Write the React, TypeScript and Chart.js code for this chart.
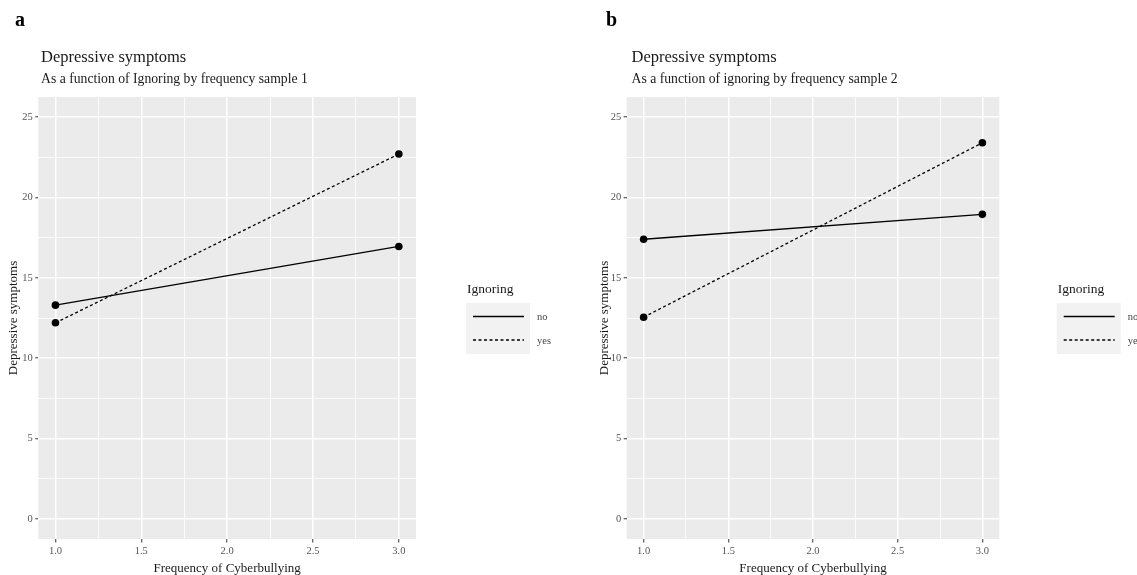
import React, { useEffect, useRef } from 'react';
import { Chart, registerables } from 'chart.js';

Chart.register(...registerables);

// ---- data ----
const frequencyLevels = [1, 3];
const seriesLabels = ['no', 'yes'];
const sampleOneNo = [13.3, 16.95];
const sampleOneYes = [12.2, 22.7];
const sampleTwoNo = [17.4, 18.95];
const sampleTwoYes = [12.55, 23.4];

const xMajorTicks = [1.0, 1.5, 2.0, 2.5, 3.0];
const xMinorTicks = [1.25, 1.75, 2.25, 2.75];
const xTickLabels = ['1.0', '1.5', '2.0', '2.5', '3.0'];
const yMajorTicks = [0, 5, 10, 15, 20, 25];
const yMinorTicks = [2.5, 7.5, 12.5, 17.5, 22.5];
const yTickLabels = ['0', '5', '10', '15', '20', '25'];
const xRange = [0.9, 3.1];
const yRange = [-1.25, 26.25];

const SERIF = "'Liberation Serif', 'DejaVu Serif', serif";
const H = 575;

type Panel = {
  letter: string;
  title: string;
  subtitle: string;
  no: number[];
  yes: number[];
  left: number;
  width: number;
  areaLeft: number;
  areaRight: number;
  yTitleX: number;
  titleX: number;
  letterX: number;
  legendX: number;
};

const panels: Panel[] = [
  {
    letter: 'a',
    title: 'Depressive symptoms',
    subtitle: 'As a function of Ignoring by frequency sample 1',
    no: sampleOneNo,
    yes: sampleOneYes,
    left: 0,
    width: 568,
    areaLeft: 38.3,
    areaRight: 416,
    yTitleX: 14,
    titleX: 41,
    letterX: 15,
    legendX: 466,
  },
  {
    letter: 'b',
    title: 'Depressive symptoms',
    subtitle: 'As a function of ignoring by frequency sample 2',
    no: sampleTwoNo,
    yes: sampleTwoYes,
    left: 568,
    width: 569,
    areaLeft: 58.7,
    areaRight: 431.3,
    yTitleX: 36.5,
    titleX: 63.5,
    letterX: 38,
    legendX: 488.7,
  },
];

const isIn = (arr: number[], v: number) => arr.some((a) => Math.abs(a - v) < 1e-9);

function PanelChart({ p }: { p: Panel }) {
  const ref = useRef<HTMLCanvasElement | null>(null);
  useEffect(() => {
    if (!ref.current) return;
    const Y_AXIS_W = 38;
    const titleFontSize = 13;
    const yTitleOffset = p.yTitleX - (p.areaLeft - Y_AXIS_W) - (titleFontSize * 1.2) / 2;

    const decorPlugin = {
      id: 'decor' + p.letter,
      beforeDraw(chart: any) {
        const { ctx, chartArea } = chart;
        ctx.save();
        ctx.fillStyle = '#EBEBEB';
        ctx.fillRect(chartArea.left, chartArea.top, chartArea.right - chartArea.left, chartArea.bottom - chartArea.top);
        ctx.restore();
      },
      afterDraw(chart: any) {
        const { ctx } = chart;
        ctx.save();
        ctx.textBaseline = 'alphabetic';
        ctx.textAlign = 'left';
        // panel letter
        ctx.fillStyle = '#000';
        ctx.font = `bold 20px ${SERIF}`;
        ctx.fillText(p.letter, p.letterX, 26);
        // title & subtitle
        ctx.fillStyle = '#1a1a1a';
        ctx.font = `16.5px ${SERIF}`;
        ctx.fillText(p.title, p.titleX, 62);
        ctx.font = `13.7px ${SERIF}`;
        ctx.fillText(p.subtitle, p.titleX, 83);
        // legend
        const lx = p.legendX;
        ctx.font = `13.5px ${SERIF}`;
        ctx.fillStyle = '#1a1a1a';
        ctx.fillText('Ignoring', lx + 1, 293);
        ctx.fillStyle = '#F2F2F2';
        ctx.fillRect(lx, 303, 64, 51);
        const keyY = [316.5, 340];
        const dashes = [[], [3, 2.5]];
        seriesLabels.forEach((lab, i) => {
          ctx.strokeStyle = '#000';
          ctx.lineWidth = 1.3;
          ctx.setLineDash(dashes[i]);
          ctx.beginPath();
          ctx.moveTo(lx + 7, keyY[i]);
          ctx.lineTo(lx + 58, keyY[i]);
          ctx.stroke();
          ctx.setLineDash([]);
          ctx.fillStyle = '#444';
          ctx.font = `10.5px ${SERIF}`;
          ctx.textBaseline = 'middle';
          ctx.fillText(lab, lx + 71, keyY[i] + 1);
        });
        ctx.restore();
      },
    };

    const tickFont = { family: SERIF, size: 10.5 };
    const chart = new Chart(ref.current, {
      type: 'line',
      data: {
        datasets: [
          {
            label: seriesLabels[0],
            data: frequencyLevels.map((x, i) => ({ x, y: p.no[i] })),
            borderColor: '#000',
            backgroundColor: '#000',
            borderWidth: 1.3,
            pointRadius: 3.8,
            pointBorderWidth: 0,
            pointBackgroundColor: '#000',
          },
          {
            label: seriesLabels[1],
            data: frequencyLevels.map((x, i) => ({ x, y: p.yes[i] })),
            borderColor: '#000',
            backgroundColor: '#000',
            borderWidth: 1.3,
            borderDash: [3, 2.5],
            pointRadius: 3.8,
            pointBorderWidth: 0,
            pointBackgroundColor: '#000',
          },
        ],
      },
      options: {
        animation: false,
        responsive: false,
        devicePixelRatio: 1,
        layout: {
          padding: { left: p.areaLeft - Y_AXIS_W, right: p.width - p.areaRight, top: 97, bottom: 0 },
        },
        plugins: {
          legend: { display: false },
          tooltip: { enabled: false },
          title: { display: false },
        },
        scales: {
          x: {
            type: 'linear',
            min: xRange[0],
            max: xRange[1],
            afterBuildTicks: (s: any) => {
              s.ticks = [...xMajorTicks, ...xMinorTicks].sort((a, b) => a - b).map((v) => ({ value: v }));
            },
            afterFit: (s: any) => {
              s.height = 36;
            },
            border: { display: false },
            grid: {
              color: '#FFFFFF',
              lineWidth: (c: any) => (isIn(xMajorTicks, c.tick.value) ? 1.5 : 0.8),
              tickColor: (c: any) => (isIn(xMajorTicks, c.tick.value) ? '#333333' : 'rgba(0,0,0,0)'),
              tickLength: 3.5,
              tickWidth: 1,
            },
            ticks: {
              autoSkip: false,
              maxRotation: 0,
              padding: 2.5,
              color: '#555555',
              font: tickFont,
              callback: (v: any) => {
                const i = xMajorTicks.findIndex((m) => Math.abs(m - v) < 1e-9);
                return i >= 0 ? xTickLabels[i] : '';
              },
            },
            title: {
              display: true,
              text: 'Frequency of Cyberbullying',
              color: '#1a1a1a',
              font: { family: SERIF, size: 13, lineHeight: 1.0 },
              padding: { top: 0, bottom: 0 },
            },
          },
          y: {
            type: 'linear',
            min: yRange[0],
            max: yRange[1],
            afterBuildTicks: (s: any) => {
              s.ticks = [...yMajorTicks, ...yMinorTicks].sort((a, b) => a - b).map((v) => ({ value: v }));
            },
            afterFit: (s: any) => {
              s.width = Y_AXIS_W;
            },
            border: { display: false },
            grid: {
              color: '#FFFFFF',
              lineWidth: (c: any) => (isIn(yMajorTicks, c.tick.value) ? 1.5 : 0.8),
              tickColor: (c: any) => (isIn(yMajorTicks, c.tick.value) ? '#333333' : 'rgba(0,0,0,0)'),
              tickLength: 3,
              tickWidth: 1,
            },
            ticks: {
              autoSkip: false,
              padding: 2.5,
              color: '#555555',
              font: tickFont,
              callback: (v: any) => {
                const i = yMajorTicks.findIndex((m) => Math.abs(m - v) < 1e-9);
                return i >= 0 ? yTickLabels[i] : '';
              },
            },
            title: {
              display: true,
              text: 'Depressive symptoms',
              color: '#1a1a1a',
              font: { family: SERIF, size: titleFontSize },
              padding: { top: yTitleOffset, bottom: 0 },
            },
          },
        },
      },
      plugins: [decorPlugin],
    } as any);
    return () => chart.destroy();
  }, [p]);
  return (
    <canvas
      ref={ref}
      width={p.width}
      height={H}
      style={{ position: 'absolute', left: p.left, top: 0, width: p.width, height: H }}
    />
  );
}

export default function App() {
  return (
    <div
      style={{
        position: 'fixed',
        left: 0,
        top: 0,
        width: 1137,
        height: H,
        background: '#FFFFFF',
        overflow: 'hidden',
      }}
    >
      {panels.map((p) => (
        <PanelChart key={p.letter} p={p} />
      ))}
    </div>
  );
}
